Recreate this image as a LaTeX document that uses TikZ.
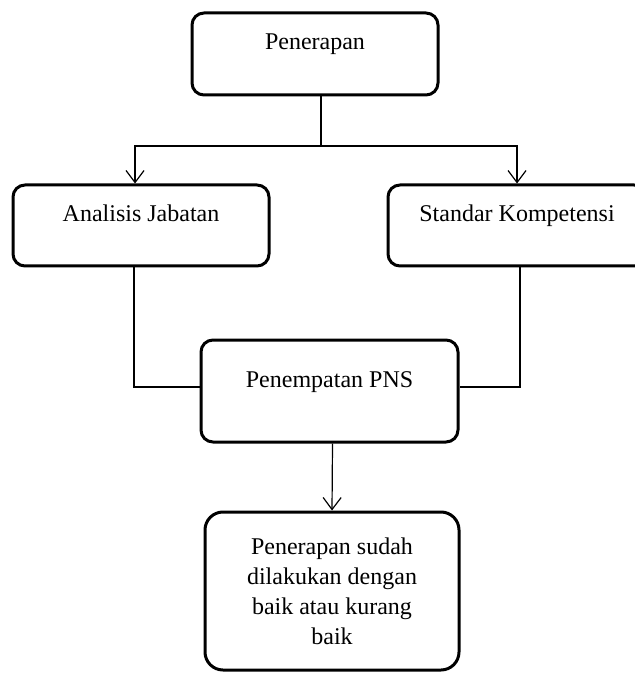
\documentclass[tikz,border=0pt]{standalone}
\usepackage{fontspec}
\setmainfont{Liberation Serif}
\usetikzlibrary{arrows.meta,positioning,calc}
\tikzset{
  box/.style={rounded corners=6pt, draw=black, line width=1.5pt, fill=white,
              align=center, font=\fontsize{12}{15}\selectfont, inner sep=0pt},
  flow/.style={-{Straight Barb[length=6pt, width=9pt, line width=0.6pt]}, line width=0.6pt, draw=black},
  link/.style={line width=0.6pt, draw=black},
}

\begin{document}
\begin{tikzpicture}[x=0.5pt, y=-0.5pt]
  \useasboundingbox (0,0) rectangle (634,673);
  \node[box, minimum width=123pt, text height=18.5pt, text depth=22.5pt] (apl) at (315,54) {Penerapan};
  \node[box, minimum width=128pt, text height=18.5pt, text depth=22pt] (ana) at (141,225.5) {Analisis Jabatan};
  \node[box, minimum width=129pt, text height=18.5pt, text depth=22pt] (std) at (517,225.5) {Standar Kompetensi};
  \node[box, minimum width=128.5pt, text height=23.5pt, text depth=27.5pt] (pns) at (329.5,391) {Penempatan PNS};
  \node[box, rounded corners=9pt, minimum width=127pt, minimum height=79pt] (res) at (332,591) {Penerapan sudah\\dilakukan dengan\\baik atau kurang\\baik};
  \coordinate (fork) at (321,146);
  \draw[link](apl.south -| fork)--(fork);
  \draw[flow](fork) -| ([xshift=-3pt]ana.north);\draw[flow](fork) -| (std.north);
  \draw[link]([xshift=-3.5pt]ana.south) |- ([yshift=2pt]pns.west);
  \draw[link]([xshift=1.5pt]std.south) |- ([yshift=2pt]pns.east);
  \draw[flow]([xshift=1.5pt]pns.south)--(res.north);
\end{tikzpicture}
\end{document}
